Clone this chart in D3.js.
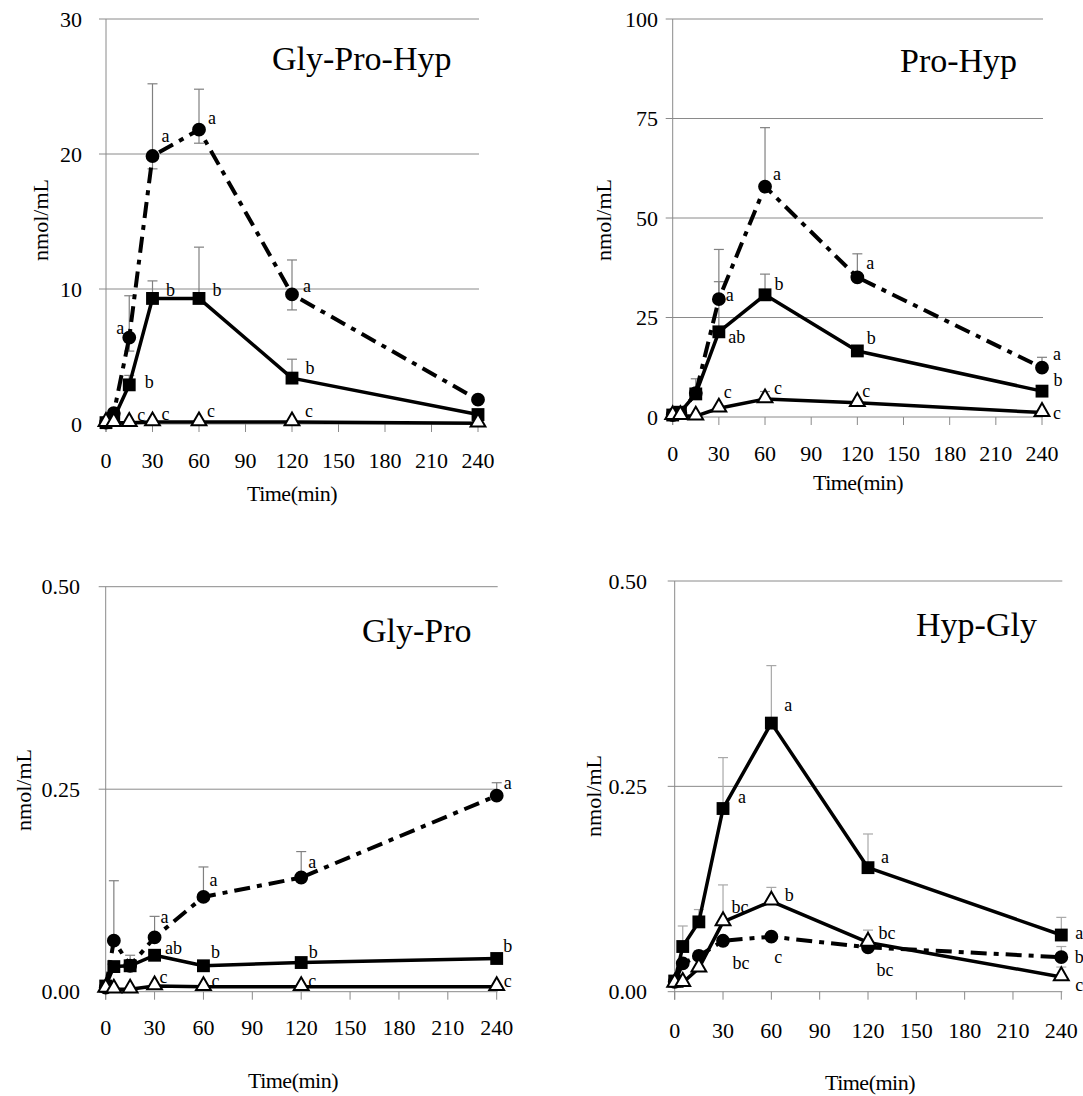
<!DOCTYPE html>
<html><head><meta charset="utf-8">
<script src="https://cdn.jsdelivr.net/npm/d3@7"></script>
<style>
body{margin:0;background:#fff}
svg{display:block}
</style>
</head><body>
<svg id="c" width="1083" height="1096" font-family="'Liberation Serif', 'Times New Roman', 'DejaVu Serif', serif"></svg>
<script>
// ---------- data ----------
const times = [0, 5, 15, 30, 60, 120, 240];
const xTicks = [0, 30, 60, 90, 120, 150, 180, 210, 240];
const panelTitles = ["Gly-Pro-Hyp", "Pro-Hyp", "Gly-Pro", "Hyp-Gly"];
const yLabel = "nmol/mL";
const xLabel = "Time(min)";

const yTicksGPH = [0, 10, 20, 30];
const yTicksPH = [0, 25, 50, 75, 100];
const yTicksGP = [0, 0.25, 0.5];
const yTicksHG = [0, 0.25, 0.5];

// Gly-Pro-Hyp
const gphCircle   = [0.1, 0.8, 6.4, 19.85, 21.8, 9.6, 1.8];
const gphCircleHi = [null, null, 9.5, 25.2, 24.8, 12.15, null];
const gphCircleLo = [null, null, 5.4, 18.9, 20.8, 8.45, null];
const gphSquare   = [0.1, 0.4, 2.9, 9.3, 9.3, 3.4, 0.7];
const gphSquareHi = [null, null, 3.6, 10.6, 13.1, 4.8, null];
const gphTriangle = [0.1, 0.1, 0.1, 0.15, 0.15, 0.15, 0.05];

// Pro-Hyp
const phCircle     = [0.5, 1.0, 6.0, 29.6, 57.9, 35.1, 12.4];
const phCircleHi   = [null, null, null, 42.1, 72.7, 41.0, 15.0];
const phSquare     = [0.5, 1.2, 5.8, 21.4, 30.7, 16.6, 6.5];
const phSquareHi   = [null, null, 9.6, 34.0, 35.9, null, null];
const phTriangle   = [0.3, 0.3, 0.2, 2.2, 4.5, 3.6, 1.1];
const phTriangleHi = [null, null, null, null, 6.4, null, null];

// Gly-Pro
const gpCircle   = [0.005, 0.063, 0.032, 0.067, 0.117, 0.141, 0.242];
const gpCircleHi = [null, 0.137, null, 0.093, 0.154, 0.173, 0.258];
const gpSquare   = [0.007, 0.031, 0.032, 0.045, 0.032, 0.036, 0.041];
const gpSquareHi = [null, null, 0.045, null, null, null, null];
const gpTriangle = [0.004, 0.003, 0.003, 0.007, 0.006, 0.006, 0.006];

// Hyp-Gly
const hgCircle     = [0.012, 0.0345, 0.0435, 0.062, 0.067, 0.054, 0.042];
const hgCircleHi   = [null, null, 0.05, null, null, null, 0.055];
const hgSquare     = [0.013, 0.055, 0.085, 0.223, 0.327, 0.151, 0.069];
const hgSquareHi   = [null, 0.080, 0.100, 0.285, 0.397, 0.192, 0.0905];
const hgTriangle   = [0.010, 0.011, 0.0285, 0.085, 0.11, 0.06, 0.018];
const hgTriangleHi = [null, null, null, 0.130, 0.127, 0.075, 0.030];

// significance letters: [series, time index, letter]
const gphLetters = [["c",2,"a"],["c",3,"a"],["c",4,"a"],["c",5,"a"],
  ["s",2,"b"],["s",3,"b"],["s",4,"b"],["s",5,"b"],
  ["t",2,"c"],["t",3,"c"],["t",4,"c"],["t",5,"c"]];
const phLetters = [["c",3,"a"],["c",4,"a"],["c",5,"a"],["c",6,"a"],
  ["s",3,"ab"],["s",4,"b"],["s",5,"b"],["s",6,"b"],
  ["t",3,"c"],["t",4,"c"],["t",5,"c"],["t",6,"c"]];
const gpLetters = [["c",3,"a"],["c",4,"a"],["c",5,"a"],["c",6,"a"],
  ["s",3,"ab"],["s",4,"b"],["s",5,"b"],["s",6,"b"],
  ["t",3,"c"],["t",4,"c"],["t",5,"c"],["t",6,"c"]];
const hgLetters = [["s",3,"a"],["s",4,"a"],["s",5,"a"],["s",6,"a"],
  ["t",3,"bc"],["t",4,"b"],["t",5,"bc"],["t",6,"c"],
  ["c",3,"bc"],["c",4,"c"],["c",5,"bc"],["c",6,"b"]];

// ---------- layout (pixels, styles) ----------
const FONT = "'Liberation Serif', 'Times New Roman', 'DejaVu Serif', serif";
const letterOffsets = [
  {c2:[-9,-10],c3:[13,-20],c4:[13,-12],c5:[15,-8],s2:[20,-3],s3:[18,-8],s4:[18,-8],s5:[18,-10],t2:[12,-8],t3:[13,-8],t4:[12,-11],t5:[17,-11]},
  {c3:[11,-4],c4:[12,-13],c5:[13,-14],c6:[15,-14],s3:[18,5],s4:[14,-11],s5:[14,-13],s6:[16,-11],t3:[9,-16],t4:[13,-11],t5:[9,-12],t6:[15,0]},
  {c3:[10,-20],c4:[10,-17],c5:[11,-15],c6:[11,-13],s3:[19,-7],s4:[12,-14],s5:[12,-11],s6:[11,-12],t3:[9,-9],t4:[12,-6],t5:[11,-6],t6:[11,-6]},
  {s3:[19,-12],s4:[17,-18],s5:[17,-11],s6:[18,-2],t3:[17,-15],t4:[18,-6],t5:[19,-9],t6:[18,8],c3:[18,22],c4:[7,20],c5:[17,23],c6:[18,0]}
];

const panels = [
  {title:panelTitles[0], yTicks:yTicksGPH, fmt:d3.format("d"), ymax:30,
   x0:106, x1:478, y0:424, y1:19, tickLabRight:82, xLabY:460, xTitleX:292, xTitleY:493, yTitleX:40, yTitleY:220,
   titleX:272, titleY:70, errColor:"#808080",
   circle:gphCircle, circleHi:gphCircleHi, circleLo:gphCircleLo, square:gphSquare, squareHi:gphSquareHi, triangle:gphTriangle, triangleHi:null, letters:gphLetters},
  {title:panelTitles[1], yTicks:yTicksPH, fmt:d3.format("d"), ymax:100,
   x0:672.7, x1:1042, y0:417, y1:19, tickLabRight:658, xLabY:453, xTitleX:858, xTitleY:482, yTitleX:603, yTitleY:220,
   titleX:900, titleY:72, errColor:"#808080",
   circle:phCircle, circleHi:phCircleHi, circleLo:null, square:phSquare, squareHi:phSquareHi, triangle:phTriangle, triangleHi:phTriangleHi, letters:phLetters},
  {title:panelTitles[2], yTicks:yTicksGP, fmt:d3.format(".2f"), ymax:0.5,
   x0:105.7, x1:496.7, y0:991.7, y1:586.7, tickLabRight:80, xLabY:1027, xTitleX:293, xTitleY:1080, yTitleX:23, yTitleY:790,
   titleX:362, titleY:642, errColor:"#808080",
   circle:gpCircle, circleHi:gpCircleHi, circleLo:null, square:gpSquare, squareHi:gpSquareHi, triangle:gpTriangle, triangleHi:null, letters:gpLetters},
  {title:panelTitles[3], yTicks:yTicksHG, fmt:d3.format(".2f"), ymax:0.5,
   x0:674.7, x1:1061.3, y0:991.7, y1:581, tickLabRight:647, xLabY:1030, xTitleX:870, xTitleY:1082, yTitleX:593, yTitleY:796,
   titleX:916, titleY:636, errColor:"#a8a8a8",
   circle:hgCircle, circleHi:hgCircleHi, circleLo:null, square:hgSquare, squareHi:hgSquareHi, triangle:hgTriangle, triangleHi:hgTriangleHi, letters:hgLetters}
];

const svg = d3.select("#c");
svg.append("rect").attr("width",1083).attr("height",1096).attr("fill","#fff");

function txt(sel, size) {
  return sel.attr("font-family", FONT).style("font-family", FONT)
    .style("font-size", size + "px").attr("fill", "#000");
}

panels.forEach((p, pi) => {
  const x = d3.scaleLinear().domain([0, 240]).range([p.x0, p.x1]);
  const y = d3.scaleLinear().domain([0, p.ymax]).range([p.y0, p.y1]);
  const g = svg.append("g");

  // gridlines + y ticks
  g.selectAll(".grid").data(p.yTicks).enter().append("line")
    .attr("x1", p.x0 - 7).attr("x2", p.x1 + 1)
    .attr("y1", d => y(d)).attr("y2", d => y(d))
    .attr("stroke", "#8a8a8a").attr("stroke-width", 1);
  // y axis line
  g.append("line").attr("x1", p.x0).attr("x2", p.x0).attr("y1", p.y1).attr("y2", p.y0 + 8)
    .attr("stroke", "#8a8a8a").attr("stroke-width", 1);
  // x ticks
  g.selectAll(".xt").data(xTicks).enter().append("line")
    .attr("x1", d => x(d)).attr("x2", d => x(d))
    .attr("y1", p.y0).attr("y2", p.y0 + 8)
    .attr("stroke", "#8a8a8a").attr("stroke-width", 1);

  // y tick labels
  txt(g.selectAll(".yl").data(p.yTicks).enter().append("text")
    .attr("x", p.tickLabRight).attr("y", d => y(d))
    .attr("text-anchor", "end").attr("dominant-baseline", "central"), 22)
    .text(d => p.fmt(d));
  // x tick labels
  txt(g.selectAll(".xl").data(xTicks).enter().append("text")
    .attr("x", d => x(d)).attr("y", p.xLabY)
    .attr("text-anchor", "middle").attr("dominant-baseline", "central"), 22)
    .text(d => d);

  // axis titles
  txt(g.append("text").attr("x", p.xTitleX).attr("y", p.xTitleY)
    .attr("text-anchor", "middle").attr("dominant-baseline", "central"), 22)
    .style("letter-spacing", "-0.5px").text(xLabel);
  txt(g.append("text").attr("transform", `translate(${p.yTitleX},${p.yTitleY}) rotate(-90)`)
    .attr("text-anchor", "middle").attr("dominant-baseline", "central"), 22)
    .text(yLabel);

  // panel title
  txt(g.append("text").attr("x", p.titleX).attr("y", p.titleY), 34).text(p.title);

  // error bars
  const errs = [];
  const addErr = (vals, hi, lo) => {
    times.forEach((t, i) => {
      if (hi && hi[i] != null) errs.push({t, from: vals[i], to: hi[i]});
      if (lo && lo[i] != null) errs.push({t, from: vals[i], to: lo[i]});
    });
  };
  addErr(p.circle, p.circleHi, p.circleLo);
  addErr(p.square, p.squareHi, null);
  addErr(p.triangle, p.triangleHi, null);
  const eg = g.append("g").attr("stroke", p.errColor).attr("stroke-width", 1.2);
  errs.forEach(e => {
    eg.append("line").attr("x1", x(e.t)).attr("x2", x(e.t)).attr("y1", y(e.from)).attr("y2", y(e.to));
    eg.append("line").attr("x1", x(e.t) - 5).attr("x2", x(e.t) + 5).attr("y1", y(e.to)).attr("y2", y(e.to));
  });

  const line = d3.line().x((d, i) => x(times[i])).y(d => y(d));

  // circle series (dash-dot)
  g.append("path").datum(p.circle).attr("d", line).attr("fill", "none")
    .attr("stroke", "#000").attr("stroke-width", 4).attr("stroke-dasharray", "16,7,5,7");
  g.selectAll(".cm").data(p.circle).enter().append("path")
    .attr("d", d3.symbol(d3.symbolCircle, 150))
    .attr("transform", (d, i) => `translate(${x(times[i])},${y(d)})`)
    .attr("fill", "#000");

  // square series
  g.append("path").datum(p.square).attr("d", line).attr("fill", "none")
    .attr("stroke", "#000").attr("stroke-width", 3.5).attr("stroke-linejoin", "round");
  g.selectAll(".sm").data(p.square).enter().append("path")
    .attr("d", d3.symbol(d3.symbolSquare, 165))
    .attr("transform", (d, i) => `translate(${x(times[i])},${y(d)})`)
    .attr("fill", "#000");

  // triangle series
  g.append("path").datum(p.triangle).attr("d", line).attr("fill", "none")
    .attr("stroke", "#000").attr("stroke-width", 3.5).attr("stroke-linejoin", "round");
  g.selectAll(".tm").data(p.triangle).enter().append("path")
    .attr("d", d3.symbol(d3.symbolTriangle, 95))
    .attr("transform", (d, i) => `translate(${x(times[i])},${y(d) - 1})`)
    .attr("fill", "#fff").attr("stroke", "#000").attr("stroke-width", 2);

  // letters
  const seriesOf = {c: p.circle, s: p.square, t: p.triangle};
  p.letters.forEach(([s, i, t]) => {
    const off = letterOffsets[pi][s + i] || [12, -10];
    txt(g.append("text")
      .attr("x", x(times[i]) + off[0]).attr("y", y(seriesOf[s][i]) + off[1])
      .attr("text-anchor", "middle").attr("dominant-baseline", "central"), 18)
      .text(t);
  });
});
</script>
</body></html>
